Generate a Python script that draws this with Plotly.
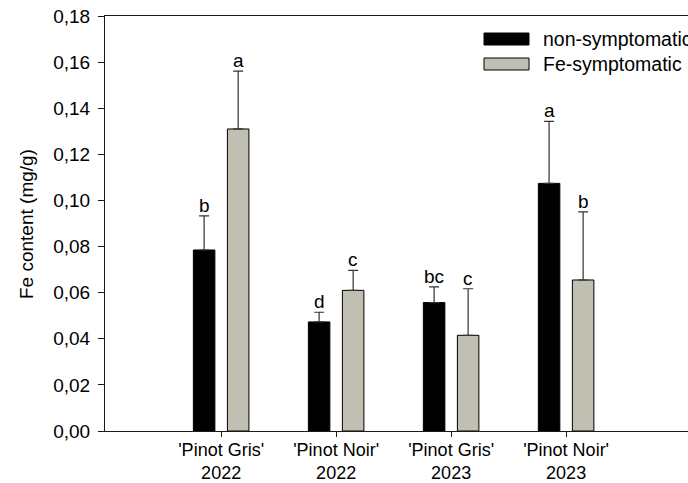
import plotly.graph_objects as go

categories = ["'Pinot Gris'<br>2022", "'Pinot Noir'<br>2022", "'Pinot Gris'<br>2023", "'Pinot Noir'<br>2023"]
non_symptomatic = [0.0785, 0.0473, 0.0557, 0.1074]
non_symptomatic_err = [0.0148, 0.0042, 0.0068, 0.0269]
fe_symptomatic = [0.1310, 0.0610, 0.0415, 0.0655]
fe_symptomatic_err = [0.0251, 0.0087, 0.0202, 0.0295]
letters_non = ["b", "d", "bc", "a"]
letters_fe = ["a", "c", "c", "b"]
series_names = ["non-symptomatic", "Fe-symptomatic"]
y_ticks = [0.00, 0.02, 0.04, 0.06, 0.08, 0.10, 0.12, 0.14, 0.16, 0.18]

FONT = "Liberation Sans, Arial, sans-serif"
BLACK = "#000000"
GREY = "#C0BFB2"
LINE = "#1a1a1a"
xpos = list(range(len(categories)))
OFF = 0.148

fig = go.Figure()
fig.add_trace(go.Bar(
    x=xpos, y=non_symptomatic, name=series_names[0],
    marker=dict(color=BLACK, line=dict(color=BLACK, width=1)),
    error_y=dict(type="data", array=non_symptomatic_err, arrayminus=[0]*4, symmetric=False,
                 color="#333333", thickness=1.2, width=5),
    showlegend=False,
))
fig.add_trace(go.Bar(
    x=xpos, y=fe_symptomatic, name=series_names[1],
    marker=dict(color=GREY, line=dict(color=BLACK, width=1)),
    error_y=dict(type="data", array=fe_symptomatic_err, arrayminus=[0]*4, symmetric=False,
                 color="#333333", thickness=1.2, width=5),
    showlegend=False,
))

annotations = []
for i in range(len(categories)):
    annotations.append(dict(x=i - OFF, y=non_symptomatic[i] + non_symptomatic_err[i], xref="x", yref="y",
                            text=letters_non[i], showarrow=False, yanchor="bottom", yshift=-2,
                            font=dict(family=FONT, size=19, color=BLACK)))
    annotations.append(dict(x=i + OFF, y=fe_symptomatic[i] + fe_symptomatic_err[i], xref="x", yref="y",
                            text=letters_fe[i], showarrow=False, yanchor="bottom", yshift=-2,
                            font=dict(family=FONT, size=19, color=BLACK)))

W, H = 688, 483
L, T, R = 105, 16, 0
B = H - 431
pw, ph = W - L - R, H - T - B
def px(x): return (x - L) / pw
def py(y): return (H - B - y) / ph

# manual legend (wide flat swatches as in the reference)
shapes = [
    dict(type="rect", xref="paper", yref="paper", x0=px(484), x1=px(529), y0=py(45), y1=py(33),
         fillcolor=BLACK, line=dict(color=BLACK, width=1)),
    dict(type="rect", xref="paper", yref="paper", x0=px(484), x1=px(529), y0=py(70), y1=py(58),
         fillcolor=GREY, line=dict(color=BLACK, width=1)),
]
annotations.append(dict(x=px(541), y=py(39), xref="paper", yref="paper", text=series_names[0],
                        showarrow=False, xanchor="left", yanchor="middle",
                        font=dict(family=FONT, size=19.5, color=BLACK)))
annotations.append(dict(x=px(541), y=py(64), xref="paper", yref="paper", text=series_names[1],
                        showarrow=False, xanchor="left", yanchor="middle",
                        font=dict(family=FONT, size=19.5, color=BLACK)))
annotations.append(dict(x=px(27), y=py(224), xref="paper", yref="paper", text="Fe content (mg/g)",
                        showarrow=False, textangle=-90, xanchor="center", yanchor="middle",
                        font=dict(family=FONT, size=19, color=BLACK)))

fig.update_layout(
    width=W, height=H,
    margin=dict(l=L, r=R, t=T, b=B, pad=0),
    paper_bgcolor="white", plot_bgcolor="white",
    barmode="group", bargap=0.408, bargroupgap=0.368,
    separators=",.",
    font=dict(family=FONT, size=18, color=BLACK),
    annotations=annotations, shapes=shapes,
)
fig.update_xaxes(
    range=[-1.01, 4.06], tickmode="array", tickvals=xpos, ticktext=categories,
    ticks="outside", ticklen=5, tickwidth=1, tickcolor=LINE,
    showline=True, linecolor=LINE, linewidth=1, mirror=True,
    showgrid=False, zeroline=False, automargin=False, ticklabelstandoff=-3,
    tickfont=dict(family=FONT, size=18, color=BLACK),
)
fig.update_yaxes(
    range=[0, 0.18], tickmode="array", tickvals=y_ticks, tickformat=".2f",
    ticks="outside", ticklen=6, tickwidth=1, tickcolor=LINE,
    showline=True, linecolor=LINE, linewidth=1,
    showgrid=False, zeroline=False, automargin=False, ticklabelstandoff=4,
    tickfont=dict(family=FONT, size=19, color=BLACK),
)

fig.write_html("out.html", config={"displayModeBar": False},
               post_script="document.body.style.margin='0px';")
